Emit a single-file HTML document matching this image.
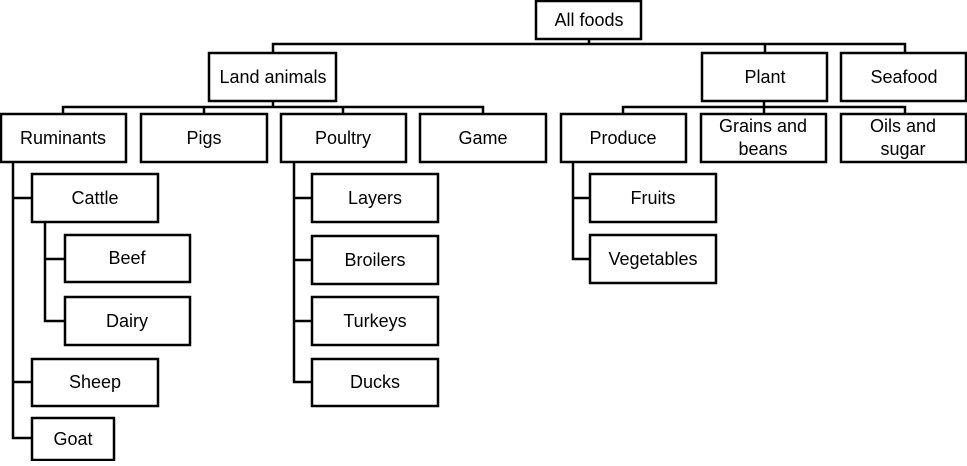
<!DOCTYPE html>
<html><head><meta charset="utf-8"><style>
html,body{margin:0;padding:0;background:#fff;}
svg text{font-family:"Liberation Sans",Arial,sans-serif;font-size:18px;fill:#000;text-anchor:middle;}
</style></head><body>
<svg width="967" height="461" viewBox="0 0 967 461" xmlns="http://www.w3.org/2000/svg">
<g fill="none" stroke="#000" stroke-width="2.5">
<polyline points="589,39 589,44"/>
<polyline points="273,52 273,44 905,44 905,52"/>
<line x1="765" y1="44" x2="765" y2="52"/>
<polyline points="63,114 63,107 483,107 483,114"/>
<line x1="273" y1="101" x2="273" y2="107"/>
<line x1="204" y1="107" x2="204" y2="114"/>
<line x1="343" y1="107" x2="343" y2="114"/>
<polyline points="623,114 623,107 905,107 905,114"/>
<line x1="764" y1="101" x2="764" y2="114"/>
<polyline points="13,162 13,438 32,438"/>
<line x1="13" y1="198" x2="32" y2="198"/>
<line x1="13" y1="382" x2="32" y2="382"/>
<polyline points="45,222 45,321 65,321"/>
<line x1="45" y1="259" x2="65" y2="259"/>
<polyline points="294,162 294,382 312,382"/>
<line x1="294" y1="198" x2="312" y2="198"/>
<line x1="294" y1="260" x2="312" y2="260"/>
<line x1="294" y1="321" x2="312" y2="321"/>
<polyline points="573,162 573,259 590,259"/>
<line x1="573" y1="198" x2="590" y2="198"/>
<rect x="536" y="1" width="105" height="38"/>
<rect x="209" y="53" width="127" height="48"/>
<rect x="702" y="53" width="125" height="48"/>
<rect x="841" y="53" width="125" height="48"/>
<rect x="1" y="114" width="125" height="48"/>
<rect x="141" y="114" width="126" height="48"/>
<rect x="281" y="114" width="125" height="48"/>
<rect x="420" y="114" width="126" height="48"/>
<rect x="561" y="114" width="125" height="48"/>
<rect x="701" y="114" width="125" height="48"/>
<rect x="841" y="114" width="125" height="48"/>
<rect x="32" y="174" width="126" height="48"/>
<rect x="65" y="235" width="125" height="47"/>
<rect x="65" y="297" width="125" height="48"/>
<rect x="32" y="359" width="126" height="47"/>
<rect x="32" y="418" width="82" height="42"/>
<rect x="312" y="174" width="126" height="48"/>
<rect x="312" y="236" width="126" height="48"/>
<rect x="312" y="297" width="126" height="48"/>
<rect x="312" y="359" width="126" height="47"/>
<rect x="590" y="174" width="126" height="48"/>
<rect x="590" y="235" width="126" height="48"/>
</g>
<text x="589" y="26">All foods</text>
<text x="273" y="83">Land animals</text>
<text x="765" y="83">Plant</text>
<text x="904" y="83">Seafood</text>
<text x="63" y="144">Ruminants</text>
<text x="204" y="144">Pigs</text>
<text x="343" y="144">Poultry</text>
<text x="483" y="144">Game</text>
<text x="623" y="144">Produce</text>
<text x="763" y="132">Grains and</text>
<text x="763" y="155">beans</text>
<text x="903" y="132">Oils and</text>
<text x="903" y="155">sugar</text>
<text x="95" y="204">Cattle</text>
<text x="127" y="264">Beef</text>
<text x="127" y="327">Dairy</text>
<text x="95" y="388">Sheep</text>
<text x="73" y="445">Goat</text>
<text x="375" y="204">Layers</text>
<text x="375" y="266">Broilers</text>
<text x="375" y="327">Turkeys</text>
<text x="375" y="388">Ducks</text>
<text x="653" y="204">Fruits</text>
<text x="653" y="265">Vegetables</text>
</svg>
</body></html>
